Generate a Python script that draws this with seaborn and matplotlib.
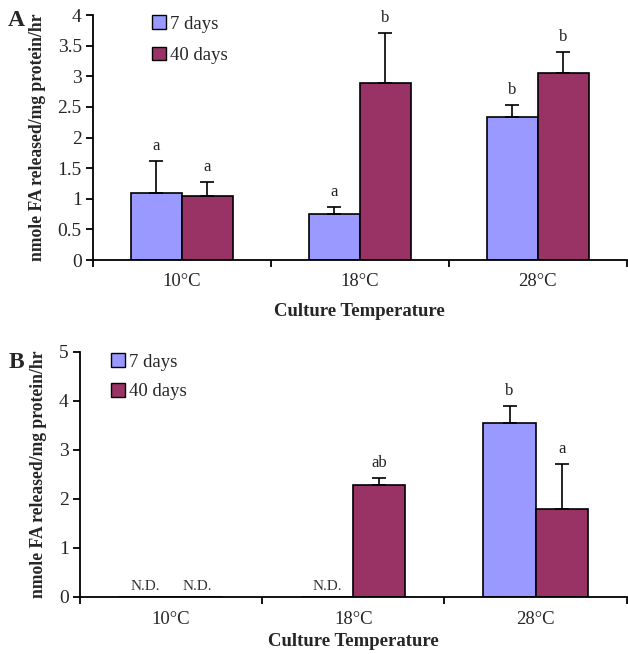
import numpy as np
import pandas as pd
import matplotlib
matplotlib.use("Agg")
import matplotlib.pyplot as plt
import seaborn as sns

# ---- data ----
categories = ["10°C", "18°C", "28°C"]
series = ["7 days", "40 days"]

a_7d = [1.09, 0.75, 2.33]
a_40d = [1.05, 2.89, 3.05]
a_7d_err = [0.53, 0.12, 0.20]
a_40d_err = [0.22, 0.81, 0.35]
a_7d_letters = ["a", "a", "b"]
a_40d_letters = ["a", "b", "b"]

b_7d = [0.0, 0.0, 3.55]
b_40d = [0.0, 2.29, 1.80]
b_7d_err = [0.0, 0.0, 0.35]
b_40d_err = [0.0, 0.14, 0.91]
b_7d_letters = ["N.D.", "N.D.", "b"]
b_40d_letters = ["N.D.", "ab", "a"]

a_yticks = [0, 0.5, 1, 1.5, 2, 2.5, 3, 3.5, 4]
a_yticklabels = ["0", "0.5", "1", "1.5", "2", "2.5", "3", "3.5", "4"]
b_yticks = [0, 1, 2, 3, 4, 5]

colors = ["#9999FF", "#993366"]

sns.set_theme(style="white")
plt.rcParams["font.family"] = ["Liberation Serif", "DejaVu Serif"]

fig = plt.figure(figsize=(6.28, 6.54), dpi=100)
axA = fig.add_axes([0.148, 0.6024, 0.850, 0.3746])
axB = fig.add_axes([0.127, 0.0872, 0.871, 0.3746])


def draw(ax, v7, v40, e7, e40, l7, l40, yticks, yticklabels, ymax, panel):
    df = pd.DataFrame({
        "Temperature": categories * 2,
        "Age": [series[0]] * 3 + [series[1]] * 3,
        "Value": list(v7) + list(v40),
    })
    sns.barplot(data=df, x="Temperature", y="Value", hue="Age",
                order=categories, hue_order=series, palette=colors,
                width=0.572, gap=0, errorbar=None, saturation=1,
                edgecolor="black", linewidth=1.2, ax=ax)
    errs = [e7, e40]
    letters = [l7, l40]
    vals = [v7, v40]
    bar_containers = list(ax.containers)[:2]
    for k, cont in enumerate(bar_containers):
        for i, bar in enumerate(cont.patches):
            xc = bar.get_x() + bar.get_width() / 2
            h = vals[k][i]
            lab = letters[k][i]
            if lab == "N.D.":
                ax.annotate(lab, (xc, 0), xytext=(0, 3), textcoords="offset points",
                            ha="center", va="bottom", fontsize=11, color="#333333")
                continue
            if errs[k][i] > 0:
                ax.errorbar(xc, h, yerr=[[0], [errs[k][i]]], fmt="none",
                            ecolor="black", elinewidth=1.2, capsize=5, capthick=1.2)
            ax.annotate(lab, (xc, h + errs[k][i]), xytext=(0, 5),
                        textcoords="offset points", ha="center", va="bottom",
                        fontsize=12, color="#222222")
    ax.set_xlim(-0.5, 2.5)
    ax.set_ylim(0, ymax)
    ax.set_yticks(yticks)
    ax.set_yticklabels(yticklabels, fontsize=14)
    ax.set_xticks([0, 1, 2])
    ax.set_xticklabels(categories, fontsize=13.5)
    ax.set_xticks([-0.5, 0.5, 1.5, 2.5], minor=True)
    ax.tick_params(axis="x", which="major", length=0, pad=9 if panel == "A" else 10)
    ax.tick_params(axis="x", which="minor", length=5, width=1.3, direction="out",
                   color="black", bottom=True)
    ax.tick_params(axis="y", length=5, width=1.3, direction="out", color="black",
                   left=True, pad=3)
    for s in ["top", "right"]:
        ax.spines[s].set_visible(False)
    for s in ["left", "bottom"]:
        ax.spines[s].set_color("black")
        ax.spines[s].set_linewidth(1.3)
    ax.set_xlabel("Culture Temperature", fontsize=13.5, fontweight="bold",
                  labelpad=10 if panel == "A" else 4)
    ax.set_ylabel("nmole FA released/mg protein/hr", fontsize=12.7, fontweight="bold")
    if panel == "A":
        ax.yaxis.set_label_coords(-0.088, 0.5)
        anchor, spacing = (0.097, 1.03), 0.75
    else:
        ax.yaxis.set_label_coords(-0.060, 0.5)
        anchor, spacing = (0.043, 1.025), 0.65
    leg = ax.legend(loc="upper left", bbox_to_anchor=anchor,
                    frameon=False, fontsize=13.5, handlelength=0.75, handleheight=0.75,
                    handletextpad=0.2, labelspacing=spacing, borderaxespad=0)
    for p in leg.get_patches():
        p.set_edgecolor("black")
        p.set_linewidth(1.0)
    ax.grid(False)


draw(axA, a_7d, a_40d, a_7d_err, a_40d_err, a_7d_letters, a_40d_letters,
     a_yticks, a_yticklabels, 4, "A")
draw(axB, b_7d, b_40d, b_7d_err, b_40d_err, b_7d_letters, b_40d_letters,
     b_yticks, [str(t) for t in b_yticks], 5, "B")

fig.text(8 / 628, 1 - 21 / 654, "A", fontsize=17, fontweight="bold", va="center")
fig.text(9 / 628, 1 - 362 / 654, "B", fontsize=17, fontweight="bold", va="center")

fig.savefig("out.png", dpi=100, facecolor="white")
